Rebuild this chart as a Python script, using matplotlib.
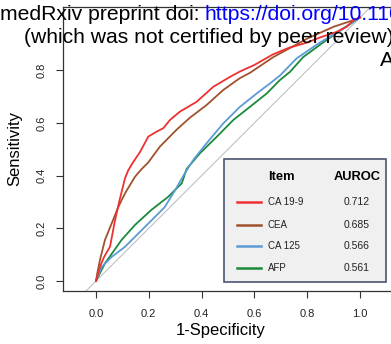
import matplotlib
matplotlib.use("Agg")
import matplotlib.pyplot as plt
from matplotlib.patches import Rectangle

plt.rcParams['font.family'] = ['Liberation Sans', 'DejaVu Sans']

# ROC curve data (1-Specificity, Sensitivity)
ca199_x = [0, 0.015, 0.03, 0.053, 0.072, 0.09, 0.11, 0.122, 0.14, 0.167, 0.198, 0.23, 0.255, 0.28,
           0.318, 0.381, 0.444, 0.508, 0.545, 0.6, 0.67, 0.73, 0.8, 0.85, 0.91, 0.95, 0.975, 1.0]
ca199_y = [0, 0.054, 0.09, 0.13, 0.23, 0.31, 0.39, 0.42, 0.45, 0.49, 0.548, 0.567, 0.58, 0.611,
           0.643, 0.68, 0.737, 0.775, 0.795, 0.82, 0.86, 0.885, 0.905, 0.925, 0.945, 0.965, 0.99, 1.0]

cea_x = [0, 0.005, 0.015, 0.034, 0.06, 0.085, 0.11, 0.148, 0.173, 0.198, 0.242, 0.306, 0.356,
         0.419, 0.482, 0.545, 0.583, 0.672, 0.8, 0.9, 0.96, 1.0]
cea_y = [0, 0.03, 0.08, 0.156, 0.22, 0.282, 0.333, 0.396, 0.425, 0.45, 0.51, 0.575, 0.62,
         0.668, 0.725, 0.77, 0.79, 0.85, 0.92, 0.965, 0.985, 1.0]

ca125_x = [0, 0.022, 0.06, 0.11, 0.16, 0.21, 0.26, 0.3, 0.337, 0.369, 0.419, 0.482, 0.545,
           0.609, 0.659, 0.697, 0.76, 0.848, 0.924, 1.0]
ca125_y = [0, 0.054, 0.092, 0.13, 0.18, 0.23, 0.28, 0.345, 0.41, 0.46, 0.523, 0.598, 0.661,
           0.712, 0.75, 0.78, 0.845, 0.905, 0.95, 1.0]

afp_x = [0, 0.034, 0.097, 0.148, 0.21, 0.274, 0.325, 0.343, 0.394, 0.457, 0.52, 0.583, 0.647,
         0.697, 0.735, 0.785, 0.86, 0.924, 1.0]
afp_y = [0, 0.067, 0.156, 0.213, 0.27, 0.32, 0.371, 0.425, 0.485, 0.547, 0.611, 0.661, 0.712,
         0.763, 0.794, 0.85, 0.905, 0.95, 1.0]

items = ["CA 19-9", "CEA", "CA 125", "AFP"]
aurocs = ["0.712", "0.685", "0.566", "0.561"]
colors = ["#EE3030", "#A0522D", "#5B9BD5", "#1B8A3A"]
xticks = [0.0, 0.2, 0.4, 0.6, 0.8, 1.0]
yticks = [0.0, 0.2, 0.4, 0.6, 0.8]

W, H = 391, 344
fig = plt.figure(figsize=(W / 100, H / 100), dpi=100)

# axes placed in pixels: left 63, right ~395 (off image), bottom 291, top 7
ax = fig.add_axes([63 / W, (H - 291) / H, (395 - 63) / W, (291 - 7) / H])
ax.set_xlim(-0.125, 1.1326)
ax.set_ylim(-0.038, 1.040)

ax.axline((0, 0), (1, 1), color="#C0C0C0", lw=0.8, zorder=1)
series = [(ca199_x, ca199_y), (cea_x, cea_y), (ca125_x, ca125_y), (afp_x, afp_y)]
for (xs, ys), c in zip(series[::-1], colors[::-1]):
    ax.plot(xs, ys, color=c, lw=1.3, zorder=2)

ax.set_xticks(xticks)
ax.set_yticks(yticks)
ax.set_xticklabels([f"{t:.1f}" for t in xticks])
ax.set_yticklabels([f"{t:.1f}" for t in yticks], rotation=90, va="center")
ax.tick_params(axis="both", direction="out", length=5, width=0.8, color="#333333",
               labelsize=8, labelcolor="#222222")
ax.tick_params(axis="x", pad=8)
ax.tick_params(axis="y", pad=7)
for s in ["left", "bottom", "top"]:
    ax.spines[s].set_color("#333333")
    ax.spines[s].set_linewidth(0.9)
ax.spines["right"].set_visible(False)

fig.text(221 / W, 1 - 330 / H, "1-Specificity", ha="center", va="center", fontsize=12)
fig.text(15 / W, 1 - 149 / H, "Sensitivity", ha="center", va="center", fontsize=12, rotation=90)

# legend box
fig.patches.append(Rectangle((224 / W, 1 - 282 / H), (386 - 224) / W, (282 - 159) / H,
                             transform=fig.transFigure, facecolor="#F0F0F0",
                             edgecolor="#4A5570", lw=1.2, zorder=5))
fig.text(281 / W, 1 - 177 / H, "Item", ha="center", va="center", fontsize=9.3,
         fontweight="bold", zorder=6)
fig.text(357 / W, 1 - 177 / H, "AUROC", ha="center", va="center", fontsize=9.3,
         fontweight="bold", zorder=6)
row_y = [202, 225, 246, 268]
for yy, name, val, c in zip(row_y, items, aurocs, colors):
    fig.lines.append(plt.Line2D([237 / W, 261 / W], [1 - yy / H, 1 - yy / H],
                                transform=fig.transFigure, color=c, lw=1.8, zorder=6))
    fig.text(268 / W, 1 - yy / H, name, ha="left", va="center", fontsize=7, zorder=6,
             color="#222222")
    fig.text(357 / W, 1 - yy / H, val, ha="center", va="center", fontsize=7.5, zorder=6,
             color="#222222")

# medRxiv header overlay
fs = 15.2
fig.text(0, 1 - 20 / H, "medRxiv preprint doi:", ha="left", va="baseline",
         fontsize=fs, color="black", zorder=10)
fig.text(205 / W, 1 - 20 / H, "https://doi.org/10.1101/2021.01.01.21249999", ha="left",
         va="baseline", fontsize=fs, color="#0000FF", zorder=10)
fig.text(24 / W, 1 - 43 / H, "(which was not certified by peer review) is the author/funder",
         ha="left", va="baseline", fontsize=fs, color="black", zorder=10)
fig.text(380 / W, 1 - 66 / H, "All rights reserved.", ha="left", va="baseline",
         fontsize=fs, color="black", zorder=10)

fig.savefig("out.png", dpi=100)
